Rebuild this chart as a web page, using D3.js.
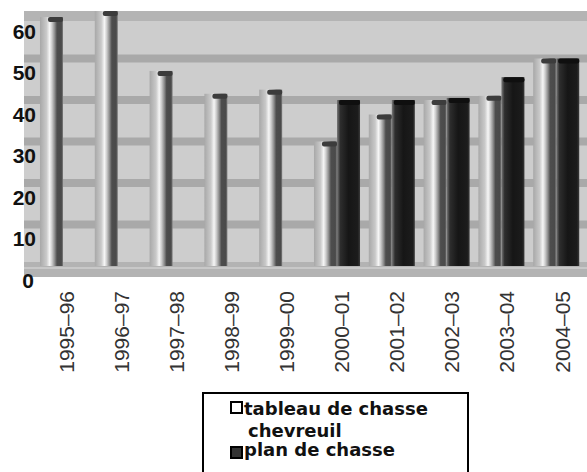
<!DOCTYPE html>
<html>
<head>
<meta charset="utf-8">
<script src="https://cdn.jsdelivr.net/npm/d3@7"></script>
<style>
body { margin: 0; background: #fff; }
svg { display: block; font-family: "Liberation Sans", Arial, sans-serif; }
</style>
</head>
<body>
<div id="chart"></div>
<script>
// data
var seasons = ["1995–96", "1996–97", "1997–98", "1998–99", "1999–00",
               "2000–01", "2001–02", "2002–03", "2003–04", "2004–05"];
var tableauValues = [60, 62.5, 47, 41.5, 42.5, 30, 36.5, 40, 41, 50];
var planValues = [null, null, null, null, null, 40, 40, 40.5, 45.5, 50];
var seriesNames = ["tableau", "plan"];
var yTicks = [0, 10, 20, 30, 40, 50, 60];
var legendLines = [["tableau de chasse", "chevreuil"], ["plan de chasse"]];

function init() {
    var w = 587, h = 472;
    var depth = 14; // offset between front plane and back wall

    var svg = d3.select("#chart").append("svg")
        .attr("width", w)
        .attr("height", h);

    var defs = svg.append("defs");
    var gT = defs.append("linearGradient").attr("id", "gradTableau");
    [[0, "#a8a8a8"], [0.28, "#c9c9c9"], [0.42, "#f6f6f6"], [0.52, "#cdcdcd"],
     [0.64, "#8c8c8c"], [0.74, "#4d4d4d"], [0.93, "#4a4a4a"], [1, "#808080"]]
        .forEach(function (s) { gT.append("stop").attr("offset", s[0]).attr("stop-color", s[1]); });
    var gP = defs.append("linearGradient").attr("id", "gradPlan");
    [[0, "#7a7a7a"], [0.14, "#2e2e2e"], [0.5, "#161616"], [0.9, "#1c1c1c"], [1, "#3a3a3a"]]
        .forEach(function (s) { gP.append("stop").attr("offset", s[0]).attr("stop-color", s[1]); });

    // back wall scale and front plane scale
    var yBack = d3.scaleLinear().domain([0, 60]).range([266, 17]);
    var yFront = d3.scaleLinear().domain([0, 60]).range([266 + depth, 17 + depth]);

    var x = d3.scaleBand().domain(seasons).range([35.6, 583.6])
        .paddingInner(0.16).paddingOuter(0.08);
    var xs = d3.scaleBand().domain(seriesNames).range([0, x.bandwidth()]);
    var xLabel = d3.scaleBand().domain(seasons).range([38.5, 589.5]);

    // plot background
    svg.append("rect")
        .attr("x", 24).attr("y", 11)
        .attr("width", w - 24).attr("height", 252)
        .attr("fill", "#cdcdcd");
    svg.append("rect")
        .attr("x", 24).attr("y", 11)
        .attr("width", w - 24).attr("height", 10)
        .attr("fill", "#b4b4b4");

    // gridline bands on the back wall
    svg.append("g").selectAll("rect")
        .data(yTicks.filter(function (d) { return d > 0 && d < 60; }))
        .enter().append("rect")
        .attr("x", 24)
        .attr("y", function (d) { return yBack(d) - 4; })
        .attr("width", w - 24)
        .attr("height", 8)
        .attr("fill", "#a9a9a9");

    // floor
    svg.append("rect")
        .attr("x", 24).attr("y", 262)
        .attr("width", w - 24).attr("height", 15)
        .attr("fill", "#b3b3b3");
    svg.append("rect")
        .attr("x", 24).attr("y", 267)
        .attr("width", w - 24).attr("height", 2)
        .attr("fill", "#c8c8c8");

    // bars
    var groups = svg.append("g").selectAll("g")
        .data(seasons)
        .enter().append("g")
        .attr("transform", function (d) { return "translate(" + x(d) + ",0)"; });

    groups.each(function (d, i) {
        var g = d3.select(this);
        var vals = [tableauValues[i], planValues[i]];
        vals.forEach(function (v, k) {
            if (v == null) return;
            var top = Math.max(yBack(v), 11);
            g.append("rect")
                .attr("x", xs(seriesNames[k]))
                .attr("y", top)
                .attr("width", xs.bandwidth())
                .attr("height", yBack(0) - top)
                .attr("fill", k === 0 ? "url(#gradTableau)" : "url(#gradPlan)");
            g.append("rect")
                .attr("x", xs(seriesNames[k]) + (k === 0 ? 8 : 2))
                .attr("y", top)
                .attr("width", xs.bandwidth() - (k === 0 ? 8 : 2))
                .attr("height", 5)
                .attr("rx", 2)
                .attr("fill", k === 0 ? "#3c3c3c" : "#0f0f0f");
        });
    });

    // y axis labels (front plane)
    svg.append("g").selectAll("text")
        .data(yTicks)
        .enter().append("text")
        .attr("x", function (d) { return d === 0 ? 34 : 36; })
        .attr("y", function (d) { return yFront(d); })
        .attr("dy", "0.36em")
        .attr("text-anchor", "end")
        .attr("font-size", 21)
        .attr("font-weight", "bold")
        .attr("fill", "#111")
        .text(function (d) { return d; });

    // x axis labels, rotated
    svg.append("g").selectAll("text")
        .data(seasons)
        .enter().append("text")
        .attr("transform", function (d) {
            return "translate(" + (xLabel(d) + xLabel.bandwidth() / 2) + ",291) rotate(-90)";
        })
        .attr("dy", "0.36em")
        .attr("text-anchor", "end")
        .attr("font-size", 21)
        .attr("fill", "#333")
        .text(function (d) { return d; });

    // legend
    var lg = svg.append("g");
    lg.append("rect")
        .attr("x", 203).attr("y", 393)
        .attr("width", 265).attr("height", 90)
        .attr("fill", "#fff")
        .attr("stroke", "#000")
        .attr("stroke-width", 2);
    var rows = [{ y: 415, sw: 402, fill: "#fff" }, { y: 456, sw: 447, fill: "#333" }];
    legendLines.forEach(function (lines, i) {
        lg.append("rect")
            .attr("x", 231).attr("y", rows[i].sw)
            .attr("width", 11).attr("height", 11)
            .attr("fill", rows[i].fill)
            .attr("stroke", "#000")
            .attr("stroke-width", 2);
        lines.forEach(function (t, j) {
            lg.append("text")
                .attr("x", j === 0 ? 244 : 248)
                .attr("y", rows[i].y + j * 22)
                .attr("font-family", "'DejaVu Sans', sans-serif")
                .attr("font-size", 18)
                .attr("font-weight", "bold")
                .attr("fill", "#111")
                .text(t);
        });
    });
}
init();
</script>
</body>
</html>
